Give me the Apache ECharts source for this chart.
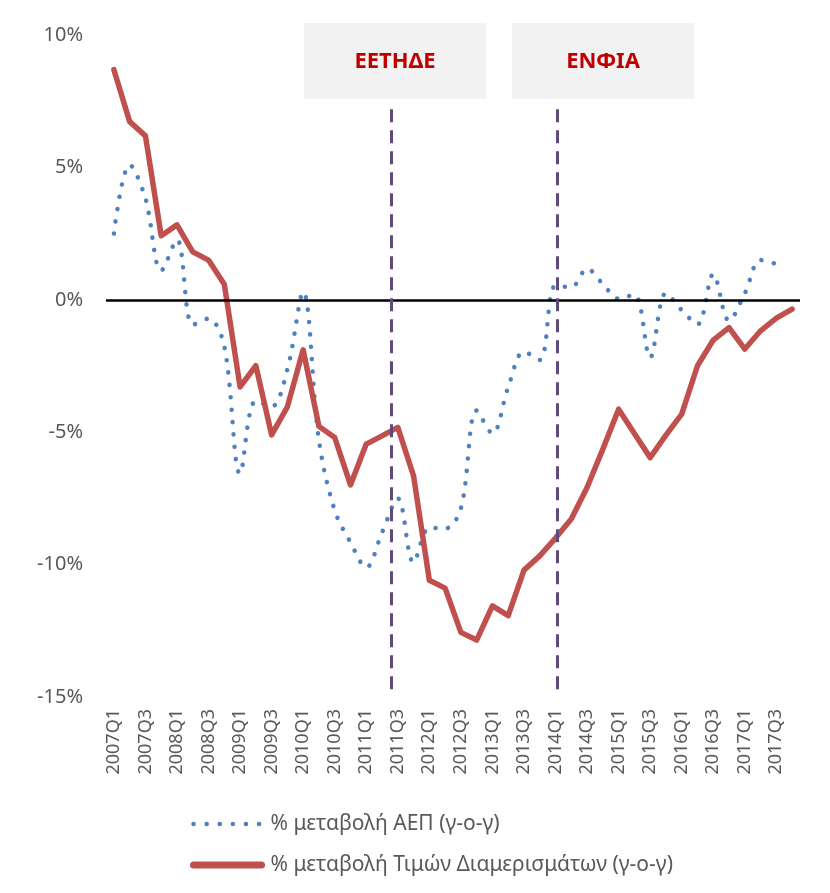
<!DOCTYPE html>
<html>
<head>
<meta charset="utf-8">
<script src="https://cdn.jsdelivr.net/npm/echarts@6/dist/echarts.min.js"></script>
<style>
html, body { margin: 0; padding: 0; background: #fff; }
#chart { width: 830px; height: 893px; }
</style>
</head>
<body>
<div id="chart"></div>
<script>
const quarters = [
  '2007Q1', '2007Q2', '2007Q3', '2007Q4', '2008Q1', '2008Q2', '2008Q3', '2008Q4',
  '2009Q1', '2009Q2', '2009Q3', '2009Q4', '2010Q1', '2010Q2', '2010Q3', '2010Q4',
  '2011Q1', '2011Q2', '2011Q3', '2011Q4', '2012Q1', '2012Q2', '2012Q3', '2012Q4',
  '2013Q1', '2013Q2', '2013Q3', '2013Q4', '2014Q1', '2014Q2', '2014Q3', '2014Q4',
  '2015Q1', '2015Q2', '2015Q3', '2015Q4', '2016Q1', '2016Q2', '2016Q3', '2016Q4',
  '2017Q1', '2017Q2', '2017Q3', '2017Q4'
];
// % μεταβολή ΑΕΠ
const gdp = [
  2.50, 5.10, 3.83, 1.10, 2.27, -0.95, -0.71, -1.75,
  -6.56, -3.81, -4.03, -2.62, 0.30, -5.30, -7.95, -9.16,
  -10.11, -8.79, -7.50, -9.92, -8.61, -8.64, -7.88, -4.18,
  -5.05, -3.30, -1.96, -2.27, 0.53, 0.48, 1.17, 0.60,
  0.04, 0.20, -2.18, 0.25, -0.39, -0.93, 0.97, -0.79,
  0.24, 1.50, 1.35, null
];
// % μεταβολή Τιμών Διαμερισμάτων
const prices = [
  8.69, 6.73, 6.19, 2.42, 2.83, 1.81, 1.50, 0.59,
  -3.29, -2.49, -5.10, -4.04, -1.89, -4.78, -5.20, -6.99,
  -5.45, -5.14, -4.82, -6.65, -10.59, -10.89, -12.56, -12.85,
  -11.56, -11.93, -10.21, -9.67, -9.00, -8.28, -7.09, -5.64,
  -4.13, -5.05, -5.96, -5.11, -4.32, -2.49, -1.52, -1.05,
  -1.86, -1.17, -0.69, -0.35
];
const seriesNames = ['% μεταβολή ΑΕΠ (γ-ο-γ)', '% μεταβολή Τιμών Διαμερισμάτων (γ-ο-γ)'];
const events = ['ΕΕΤΗΔΕ', 'ΕΝΦΙΑ'];
const eventAt = [17.6, 28.1];   // position on the quarter index scale

const font = 'Noto Sans';
const grey = '#595959';
const blue = '#4F81BD';
const red = '#C0504D';

const chart = echarts.init(document.getElementById('chart'));

const eventLines = eventAt.map(x => [
  { coord: [x, 7.2] },
  { coord: [x, -15] }
]);

const boxes = [];
events.forEach((t, i) => {
  const cx = i === 0 ? 395 : 603;
  boxes.push({
    type: 'group',
    left: cx - 91,
    top: 23,
    z: 100,
    children: [
      { type: 'rect', shape: { x: 0, y: 0, width: 182, height: 76 }, style: { fill: '#F2F2F2' } },
      {
        type: 'text', x: 91, y: 39,
        style: {
          text: t, fill: '#C00000', font: 'bold 22px "' + font + '"',
          align: 'center', verticalAlign: 'middle'
        }
      }
    ]
  });
});

chart.setOption({
  backgroundColor: '#fff',
  animation: false,
  textStyle: { fontFamily: font },
  grid: { left: 106, right: 30, top: 35, bottom: 196 },
  legend: {
    data: [{
      name: seriesNames[0],
      itemStyle: { opacity: 0 },
      lineStyle: { color: blue, width: 4.5, type: [0.1, 13], cap: 'round' }
    }, {
      name: seriesNames[1],
      itemStyle: { opacity: 0 },
      lineStyle: { color: red, width: 7, type: 'solid', cap: 'round' }
    }],
    orient: 'vertical',
    left: 185,
    top: 808,
    itemGap: 19,
    itemWidth: 68,
    itemHeight: 14,
    textStyle: { color: grey, fontSize: 21, fontFamily: font, lineHeight: 22, padding: [0, 0, 0, 4] }
  },
  xAxis: [{
    type: 'category',
    data: quarters,
    boundaryGap: true,
    axisLine: { show: false, onZero: false },
    axisTick: { show: false },
    axisLabel: {
      interval: 1, rotate: 90, margin: 12,
      color: grey, fontSize: 18, fontFamily: font
    },
    splitLine: { show: false }
  }, {
    type: 'value',
    min: -0.5,
    max: 43.5,
    show: false
  }],
  yAxis: {
    type: 'value',
    min: -15,
    max: 10,
    interval: 5,
    axisLine: { show: false },
    axisTick: { show: false },
    splitLine: { show: false },
    axisLabel: {
      formatter: '{value}%', margin: 23,
      color: grey, fontSize: 20, fontFamily: font
    }
  },
  graphic: boxes,
  series: [{
    name: seriesNames[0],
    type: 'line',
    data: gdp,
    smooth: 0.35,
    symbol: 'none',
    z: 3,
    lineStyle: { color: blue, width: 4.5, type: [0.1, 12.3], cap: 'round' },
    itemStyle: { color: blue }
  }, {
    name: seriesNames[1],
    type: 'line',
    data: prices,
    symbol: 'none',
    z: 4,
    lineStyle: { color: red, width: 5.5, cap: 'round', join: 'round' },
    itemStyle: { color: red },
    markLine: {
      silent: true,
      symbol: 'none',
      label: { show: false },
      lineStyle: { color: '#000', width: 2.5, type: 'solid' },
      data: [{ yAxis: 0 }]
    }
  }, {
    name: 'events',
    type: 'line',
    xAxisIndex: 1,
    data: [],
    z: 5,
    markLine: {
      silent: true,
      symbol: 'none',
      label: { show: false },
      lineStyle: { color: '#604A7B', width: 3, type: [13, 8] },
      data: eventLines
    }
  }]
});
</script>
</body>
</html>
